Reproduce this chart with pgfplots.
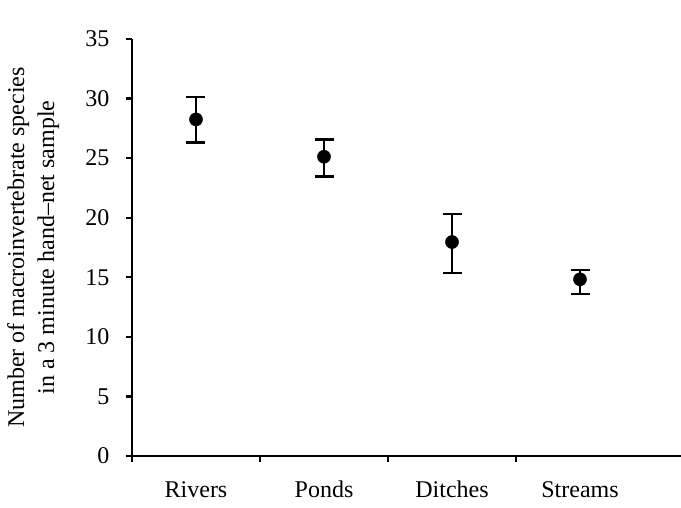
\documentclass[border=0pt]{standalone}
\usepackage{pgfplots}
\pgfplotsset{compat=1.18}
\usepackage{fontspec}
\setmainfont{Liberation Serif}
\newcommand\bigf{\fontsize{24}{30}\selectfont}
\begin{document}
\begin{tikzpicture}[font=\bigf]
\begin{axis}[
  name=ax,
  scale only axis,
  width=549pt, height=417pt,
  xmin=0, xmax=4.289, ymin=0, ymax=35,
  axis lines=left,
  axis line style={-, line width=2.3pt},
  every tick/.style={line width=2.3pt, black},
  tick align=outside,
  ticklabel style={font=\bigf},
  label style={font=\bigf},
  ytick={0,5,...,35},
  xtick={0,1,2,3},
  xticklabels={},
  extra x ticks={0.5,1.5,2.5,3.5},
  extra x tick labels={Rivers,Ponds,Ditches,Streams},
  extra x tick style={major tick length=0pt, xticklabel style={anchor=base, yshift=-41pt}},
  major tick length=6pt,
  yticklabel style={xshift=-13pt},
  /pgf/number format/assume math mode=true,
  ylabel style={at={(axis description cs:-0.180,0.5)}, anchor=center, rotate=0, align=center},
  ylabel={Number of macroinvertebrate species\\in a 3 minute hand--net sample},
  clip=false,
]
\addplot+[
  only marks,
  mark=*,
  mark size=6.6pt,
  black,
  mark options={fill=black, draw=black},
  error bars/.cd,
    y dir=both, y explicit,
    error bar style={line width=2.5pt, black},
    error mark options={rotate=90, mark size=9.5pt, line width=2.5pt, black},
] table[x=x, y=y, y error plus=ep, y error minus=em] {
x   y     ep    em
0.5 28.25 1.88  1.92
1.5 25.12 1.46  1.67
2.5 17.96 2.35  2.60
3.5 14.83 0.78  1.23
};
\end{axis}
\pgfresetboundingbox
\path ([shift={(-132pt,-51pt)}]ax.south west) rectangle ++(681pt,507pt);
\end{tikzpicture}
\end{document}
